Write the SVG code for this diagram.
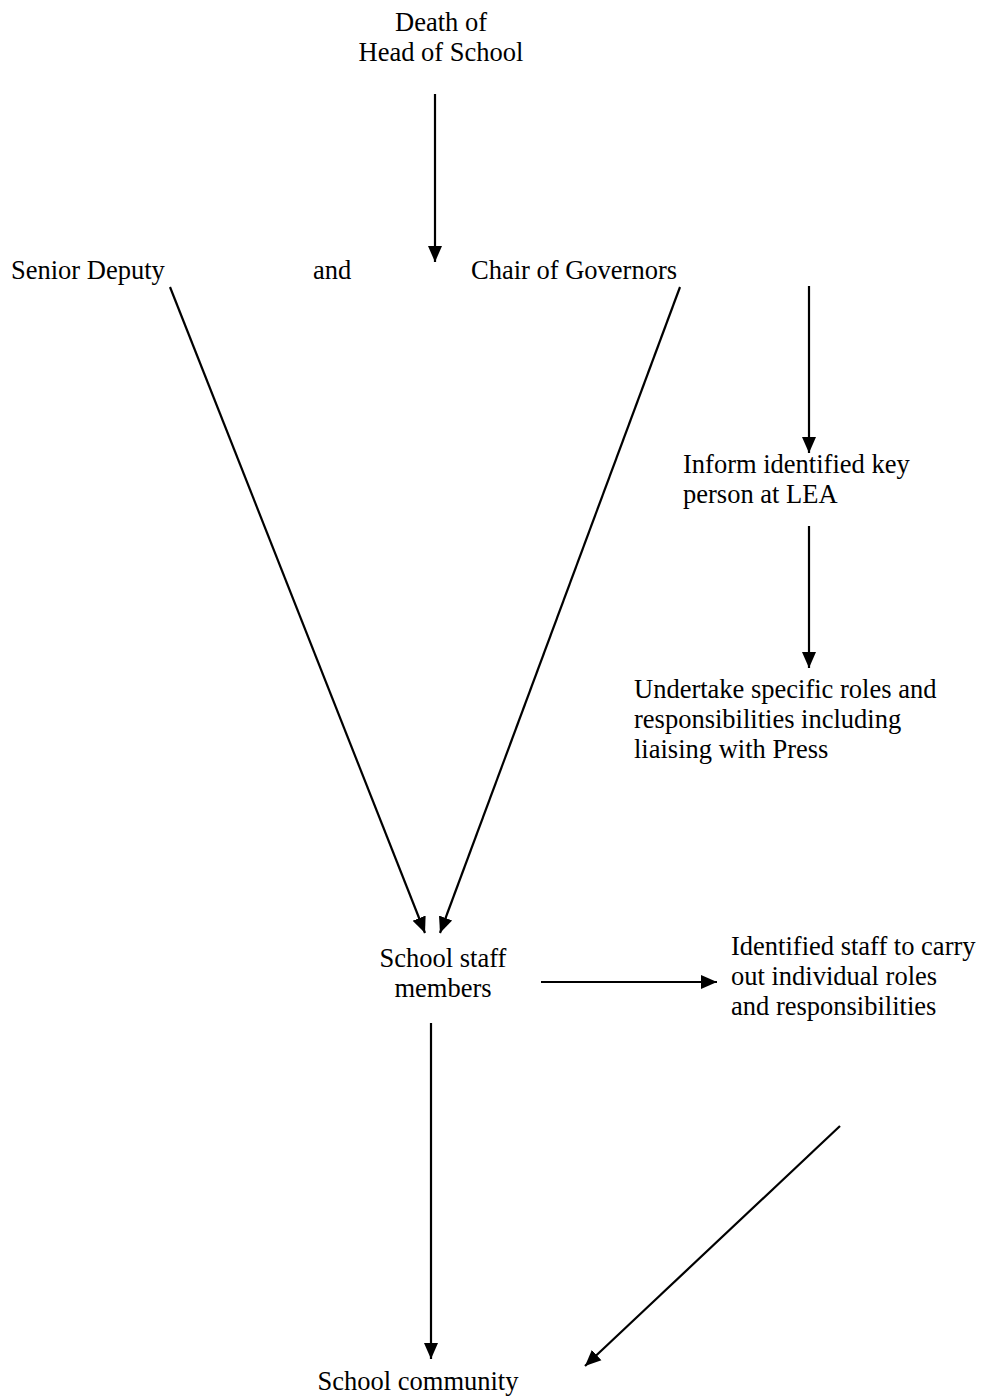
<svg xmlns="http://www.w3.org/2000/svg" width="986" height="1399" viewBox="0 0 986 1399">
  <style>
    text { font-family: "Liberation Serif", "Times New Roman", serif; font-size: 26.5px; fill: #000; }
    .mid { text-anchor: middle; }
    .edge { stroke: #000; stroke-width: 2.2; fill: none; marker-end: url(#head); }
  </style>
  <defs>
    <marker id="head" viewBox="0 0 16 16" refX="16" refY="8" markerWidth="16" markerHeight="16" markerUnits="userSpaceOnUse" orient="auto">
      <path d="M0,1 L16,8 L0,15 Z" fill="#000"/>
    </marker>
  </defs>
  <rect width="986" height="1399" fill="#fff"/>

  <g id="death">
    <text class="mid" x="441" y="31">Death of</text>
    <text class="mid" x="441" y="61">Head of School</text>
  </g>
  <g id="senior-deputy">
    <text x="11" y="279">Senior Deputy</text>
  </g>
  <g id="and-label">
    <text x="313" y="279">and</text>
  </g>
  <g id="chair">
    <text x="471" y="279">Chair of Governors</text>
  </g>
  <g id="inform-lea">
    <text x="683" y="473">Inform identified key</text>
    <text x="683" y="503">person at LEA</text>
  </g>
  <g id="undertake">
    <text x="634" y="698">Undertake specific roles and</text>
    <text x="634" y="728">responsibilities including</text>
    <text x="634" y="758">liaising with Press</text>
  </g>
  <g id="staff">
    <text class="mid" x="443" y="967">School staff</text>
    <text class="mid" x="443" y="997">members</text>
  </g>
  <g id="identified-staff">
    <text x="731" y="955">Identified staff to carry</text>
    <text x="731" y="985">out individual roles</text>
    <text x="731" y="1015">and responsibilities</text>
  </g>
  <g id="community">
    <text class="mid" x="418" y="1390">School community</text>
  </g>

  <g id="connectors">
    <line class="edge" x1="435" y1="94" x2="435" y2="262"/>
    <line class="edge" x1="170" y1="287" x2="425" y2="933"/>
    <line class="edge" x1="680" y1="287" x2="440" y2="933"/>
    <line class="edge" x1="809" y1="286" x2="809" y2="453"/>
    <line class="edge" x1="809" y1="526" x2="809" y2="668"/>
    <line class="edge" x1="541" y1="982" x2="717" y2="982"/>
    <line class="edge" x1="431" y1="1023" x2="431" y2="1359"/>
    <line class="edge" x1="840" y1="1126" x2="585" y2="1366"/>
  </g>
</svg>
